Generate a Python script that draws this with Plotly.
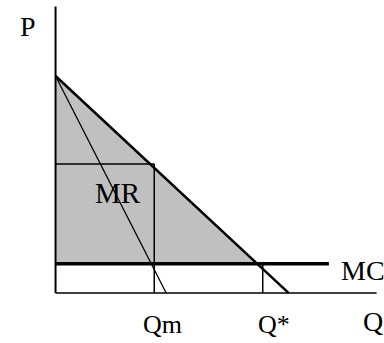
import plotly.graph_objects as go

# values (units: price P, quantity Q)
demand_q = [0, 10.75]
demand_p = [10, 0]
mr_q = [0, 5.1]
mr_p = [10, 0]
mc_q = [0, 12.6]
mc_p = [1.35, 1.35]
surplus_q = [0, 9.3, 0]
surplus_p = [10, 1.35, 1.35]
qm = 4.55
pm = 5.95
q_star = 9.55
mc = 1.35
q_axis_end = 14.8
p_axis_end = 13.2

font_serif = "Liberation Serif"

fig = go.Figure()

# shaded surplus triangle
fig.add_trace(go.Scatter(x=surplus_q, y=surplus_p, fill="toself", fillcolor="#c0c0c0",
                         line=dict(width=0), mode="lines", hoverinfo="skip"))

# monopoly price / quantity box lines
fig.add_trace(go.Scatter(x=[0, qm], y=[pm, pm], mode="lines", line=dict(color="black", width=1.5)))
fig.add_trace(go.Scatter(x=[qm, qm], y=[pm, 0], mode="lines", line=dict(color="black", width=1.5)))
fig.add_trace(go.Scatter(x=[q_star, q_star], y=[mc, 0], mode="lines", line=dict(color="black", width=1.5)))

# MR and demand
fig.add_trace(go.Scatter(x=mr_q, y=mr_p, mode="lines", line=dict(color="black", width=1.3)))
fig.add_trace(go.Scatter(x=demand_q, y=demand_p, mode="lines", line=dict(color="black", width=2.5)))

# MC
fig.add_trace(go.Scatter(x=mc_q, y=mc_p, mode="lines", line=dict(color="black", width=3.5)))

# axes
fig.add_trace(go.Scatter(x=[0, q_axis_end], y=[0, 0], mode="lines", line=dict(color="black", width=1.5)))
fig.add_trace(go.Scatter(x=[0, 0], y=[0, p_axis_end], mode="lines", line=dict(color="black", width=2)))

labels = [
    ("P", -1.27, 12.26, "center", 28),
    ("MR", 2.88, 4.61, "center", 29),
    ("MC", 13.05, 1.06, "left", 28),
    ("Qm", 4.95, -1.43, "center", 26),
    ("Q*", 10.07, -1.43, "center", 26),
    ("Q", 14.1, -1.3, "left", 28),
]
for text, x, y, anchor, size in labels:
    fig.add_annotation(x=x, y=y, text=text, showarrow=False, xanchor=anchor, yanchor="middle",
                       font=dict(family=font_serif, size=size, color="black"))

fig.update_layout(
    width=384, height=343,
    margin=dict(l=0, r=0, t=0, b=0),
    plot_bgcolor="white", paper_bgcolor="white",
    showlegend=False,
)
fig.update_xaxes(range=[-2.56, 15.14], visible=False)
fig.update_yaxes(range=[-2.30, 13.50], visible=False)

fig.write_html("out.html", config={"displayModeBar": False},
               post_script="document.body.style.margin='0';")
